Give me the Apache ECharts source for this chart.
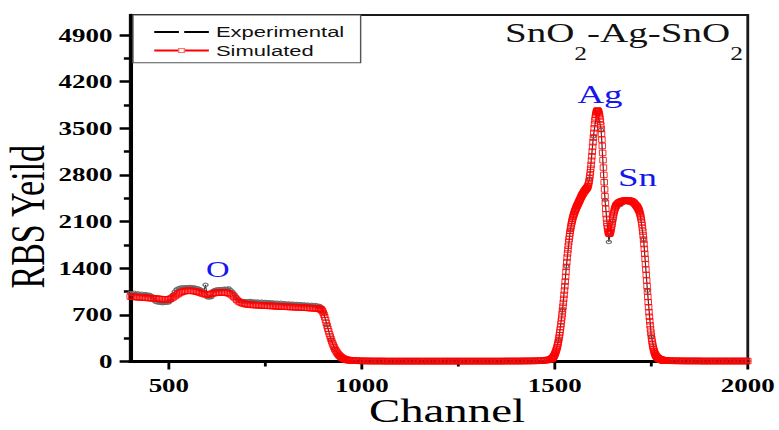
<!DOCTYPE html>
<html>
<head>
<meta charset="utf-8">
<script src="https://cdn.jsdelivr.net/npm/echarts@6.0.0/dist/echarts.min.js"></script>
<style>
  html, body { margin: 0; padding: 0; background: #fff; overflow: hidden; }
  /* the figure is laid out narrow and widened horizontally */
  #chart { width: 549px; height: 430px; transform: scaleX(1.418944); transform-origin: 0 0; }
</style>
</head>
<body>
<div id="chart"></div>
<script>
const SERIF = '"Liberation Serif", "Times New Roman", serif';
const SANS = '"Liberation Sans", Arial, sans-serif';

// Simulated RBS spectrum, stored in blocks of [first channel, channel step]
const simBlocks = [[400, 4], [890, 2], [970, 4], [1491, 1], [1662, 2], [1713, 1], [1792, 4]];
const simLow = [
  975, 973, 971, 969, 967, 965, 964, 963, 961, 959,
  958, 955, 953, 951, 950, 948, 946, 943, 941, 938,
  936, 934, 932, 931, 932, 935, 942, 953, 966, 982,
  1000, 1014, 1028, 1039, 1048, 1055, 1059, 1061, 1062, 1062,
  1060, 1057, 1054, 1049, 1042, 1035, 1027, 1019, 1012, 1007,
  1005, 1007, 1012, 1019, 1025, 1030, 1033, 1035, 1035, 1035,
  1035, 1034, 1032, 1028, 1021, 1010, 993, 972, 950, 927,
  905, 891, 880, 872, 865, 860, 857, 854, 851, 849,
  848, 847, 846, 844, 843, 842, 840, 839, 837, 836,
  835, 834, 833, 831, 830, 828, 827, 826, 824, 823,
  822, 821, 820, 819, 818, 817, 816, 815, 814, 813,
  812, 810, 809, 807, 806, 805, 803, 801, 800, 799,
  797, 795, 793
];
const simEdge = [
  790, 788, 782, 772, 755, 730, 700, 665, 622, 578,
  535, 492, 452, 412, 375, 340, 305, 272, 242, 215,
  190, 168, 148, 130, 114, 100, 88, 76, 66, 57,
  50, 44, 38, 33, 29, 26, 24, 22, 20, 19
];
const simGap = [
  18, 16, 14, 13, 12, 11, 10, 9, 9, 8,
  8, 8, 8, 7, 7, 7, 7, 7, 7, 7,
  7, 7, 6, 6, 6, 6, 6, 6, 6, 6,
  6, 6, 6, 6, 6, 6, 6, 6, 6, 6,
  6, 6, 6, 6, 6, 6, 6, 6, 6, 6,
  6, 6, 6, 6, 6, 6, 6, 6, 6, 6,
  6, 6, 6, 6, 6, 6, 6, 6, 6, 6,
  6, 6, 6, 6, 6, 6, 6, 6, 6, 6,
  6, 6, 6, 6, 6, 6, 6, 6, 6, 6,
  6, 6, 6, 6, 6, 6, 6, 6, 6, 6,
  7, 7, 7, 7, 7, 7, 7, 7, 7, 7,
  7, 7, 8, 8, 8, 8, 8, 9, 9, 9,
  10, 10, 11, 12, 13, 15, 17, 20, 24, 29,
  35
];
const simAgPeak = [
  37, 40, 45, 50, 57, 65, 75, 85, 97, 110,
  124, 140, 157, 175, 194, 215, 239, 265, 294, 325,
  359, 395, 434, 475, 519, 565, 612, 660, 712, 765,
  822, 880, 940, 1000, 1065, 1130, 1200, 1270, 1345, 1420,
  1492, 1560, 1622, 1680, 1737, 1790, 1837, 1880, 1921, 1960,
  1996, 2030, 2061, 2090, 2116, 2140, 2163, 2185, 2203, 2220,
  2238, 2255, 2270, 2285, 2300, 2315, 2328, 2340, 2353, 2365,
  2378, 2390, 2403, 2415, 2428, 2440, 2453, 2465, 2478, 2490,
  2500, 2510, 2520, 2530, 2540, 2550, 2558, 2565, 2573, 2580,
  2588, 2595, 2603, 2610, 2620, 2635, 2655, 2680, 2712, 2750,
  2793, 2840, 2893, 2950, 3013, 3080, 3150, 3220, 3290, 3360,
  3430, 3500, 3563, 3620, 3665, 3700, 3726, 3745, 3758, 3765,
  3764, 3760, 3749, 3735, 3710, 3680, 3643, 3600, 3548, 3490,
  3414, 3330, 3235, 3130, 3022, 2910, 2800, 2690, 2583, 2480,
  2382, 2290, 2210, 2140, 2080, 2030, 1991, 1960, 1940, 1925,
  1919, 1920, 1929, 1945, 1967, 1995, 2026, 2060, 2095, 2130,
  2166, 2200, 2231, 2260, 2281, 2300, 2316, 2330, 2341, 2350
];
const simSnTop = [
  2365, 2375, 2385, 2390, 2395, 2400, 2405, 2408, 2410, 2412,
  2414, 2415, 2416, 2416, 2415, 2414, 2412, 2410, 2405, 2400,
  2395, 2385, 2375, 2360, 2345, 2335
];
const simSnEdge = [
  2325, 2315, 2305, 2295, 2283, 2270, 2253, 2235, 2213, 2190,
  2162, 2130, 2092, 2050, 2002, 1950, 1892, 1830, 1762, 1690,
  1616, 1540, 1461, 1380, 1298, 1215, 1133, 1050, 969, 890,
  814, 740, 671, 605, 543, 485, 433, 385, 341, 300,
  266, 235, 206, 180, 159, 140, 124, 110, 98, 87,
  78, 70, 63, 57, 52, 47, 43, 40, 37, 34,
  31, 29, 27, 25, 23, 22, 21, 20, 19, 18,
  17, 16, 15, 15, 14, 14, 13, 13
];
const simTail = [
  12, 12, 11, 11, 10, 10, 10, 9, 9, 9,
  9, 8, 8, 8, 8, 8, 8, 8, 8, 8,
  8, 8, 7, 7, 7, 7, 7, 7, 7, 7,
  7, 7, 7, 7, 7, 7, 7, 7, 7, 7,
  7, 7, 7, 7, 7, 7, 7, 7, 7, 7,
  7, 7, 7
];

// Measured spectrum, blocks of [first channel, channel step]
const expBlocks = [[400, 5], [910, 10]];
const expLow = [
  1025, 1018, 1030, 1012, 1022, 1008, 1015, 1004, 1010, 998,
  1000, 985, 960, 900, 890, 885, 880, 878, 882, 885,
  890, 915, 1000, 1045, 1080, 1098, 1108, 1112, 1110, 1115,
  1112, 1118, 1110, 1112, 1102, 1098, 1085, 1070, 1040, 1150,
  965, 962, 968, 1060, 1072, 1080, 1085, 1082, 1088, 1090,
  1088, 1095, 1070, 1045, 1010, 960, 928, 910, 905, 902,
  905, 898, 908, 896, 900, 892, 899, 888, 897, 886,
  892, 880, 889, 878, 886, 874, 883, 872, 880, 869,
  872, 864, 870, 860, 866, 857, 862, 855, 860, 850,
  856, 848, 853, 843, 850, 840, 846, 838, 832, 812,
  740
];
const expHigh = [
  545, 330, 190, 98, 50, 27, 16, 12, 9, 8,
  9, 6, 8, 5, 7, 6, 9, 5, 6, 8,
  5, 7, 6, 8, 5, 6, 7, 5, 8, 6,
  6, 5, 8, 6, 7, 5, 6, 8, 5, 7,
  6, 8, 5, 7, 6, 5, 8, 6, 7, 7,
  8, 7, 9, 8, 11, 14, 13, 25, 32, 108,
  322, 772, 1428, 1968, 2228, 2372, 2482, 2588, 2745, 3380,
  3772, 3475, 2425, 1795, 2115, 2365, 2350, 2425, 2385, 2410,
  2335, 2245, 1835, 1065, 380, 108, 38, 19, 12, 10,
  9, 8, 9, 7, 8, 7, 8, 6, 7, 8,
  7, 6, 8, 7, 6, 7, 8, 6, 7, 6
];

const xTicks = [500, 1000, 1500, 2000];
const xMinorTicks = [750, 1250, 1750];
const yTicks = [0, 700, 1400, 2100, 2800, 3500, 4200, 4900];
const yMinorTicks = [350, 1050, 1750, 2450, 3150, 3850, 4550];

function toPairs(blocks, lists) {
  const out = [];
  blocks.forEach(([start, step], i) => {
    lists[i].forEach((v, k) => out.push([start + k * step, v]));
  });
  return out;
}

const simData = toPairs(simBlocks, [simLow, simEdge, simGap, simAgPeak, simSnTop, simSnEdge, simTail]);
const expData = toPairs(expBlocks, [expLow, expHigh]);

const peakLabels = [
  { text: 'Ag', x: 422.8, y: 94, size: 26 },
  { text: 'Sn', x: 449.3, y: 177.4, size: 26 },
  { text: 'O', x: 153.4, y: 268.8, size: 23 }
];

const tickLabel = {
  color: '#000', fontFamily: SERIF, fontWeight: 'bold', fontSize: 19,
  formatter: (v) => String(v)
};

const chart = echarts.init(document.getElementById('chart'), null, { renderer: 'svg' });

const textEl = (t, x, y, size, color, rotation, lineHeight) => ({
  type: 'text', x, y, rotation: rotation || 0, z: 20,
  style: {
    text: t, fill: color, fontFamily: SERIF, fontSize: size,
    lineHeight: lineHeight || size,
    align: 'center', verticalAlign: 'middle',
    textAlign: 'center', textVerticalAlign: 'middle'
  }
});

chart.setOption({
  animation: false,
  backgroundColor: '#fff',
  grid: {
    left: 91.8, right: 21.6, top: 15, bottom: 68.5,
    show: true, borderColor: '#1a1a1a', borderWidth: 2
  },
  title: {
    text: '{m|SnO}{s|2}{m|-Ag-SnO}{s|2}',
    right: 25.4, top: 19.1, padding: 0,
    textStyle: {
      fontWeight: 'normal',
      rich: {
        m: { fontFamily: SERIF, fontSize: 27.5, fontWeight: 'normal', lineHeight: 27, color: '#111', verticalAlign: 'top' },
        s: { fontFamily: SERIF, fontSize: 18, fontWeight: 'normal', lineHeight: 18, color: '#111', verticalAlign: 'top', padding: [25.3, 0, 0, 0] }
      }
    }
  },
  legend: {
    orient: 'vertical', left: 93.7, top: 15,
    padding: [9, 11.5, 4.2, 14], itemGap: 2.5, itemWidth: 38.5, itemHeight: 5,
    borderColor: '#555', borderWidth: 1, backgroundColor: '#fff',
    textStyle: { fontFamily: SANS, fontSize: 15.5, color: '#111' },
    data: [
      { name: 'Experimental', itemStyle: { color: '#fff', borderColor: '#fff', borderWidth: 0 }, lineStyle: { color: '#000', width: 2, opacity: 1 } },
      { name: 'Simulated', itemStyle: { color: '#fff', borderColor: '#ff7070', borderWidth: 1 }, lineStyle: { color: '#ff0000', width: 2, opacity: 1 } }
    ]
  },
  xAxis: [
    {
      type: 'value', min: 400, max: 2000, position: 'bottom',
      axisLine: { show: true, onZero: false, lineStyle: { color: '#000', width: 3 } },
      axisTick: { show: true, inside: false, length: 8, customValues: xTicks, lineStyle: { color: '#000', width: 2 } },
      axisLabel: Object.assign({ customValues: xTicks, margin: 14 }, tickLabel),
      splitLine: { show: false }
    },
    {
      type: 'value', min: 400, max: 2000, position: 'bottom',
      axisLine: { show: false },
      axisTick: { show: true, inside: false, length: 5, customValues: xMinorTicks, lineStyle: { color: '#000', width: 2 } },
      axisLabel: { show: false },
      splitLine: { show: false }
    }
  ],
  yAxis: [
    {
      type: 'value', min: 0, max: 5200, position: 'left',
      axisLine: { show: true, onZero: false, lineStyle: { color: '#000', width: 2.5 } },
      axisTick: { show: true, inside: false, length: 7.5, customValues: yTicks, lineStyle: { color: '#000', width: 2.5 } },
      axisLabel: Object.assign({ customValues: yTicks, margin: 12.5 }, tickLabel),
      splitLine: { show: false }
    },
    {
      type: 'value', min: 0, max: 5200, position: 'left',
      axisLine: { show: false },
      axisTick: { show: true, inside: false, length: 4.5, customValues: yMinorTicks, lineStyle: { color: '#000', width: 2.5 } },
      axisLabel: { show: false },
      splitLine: { show: false }
    }
  ],
  series: [
    {
      name: 'Experimental', type: 'line', data: expData, z: 2,
      symbol: 'circle', symbolSize: 3.5, showSymbol: true,
      itemStyle: { color: 'rgba(0,0,0,0)', borderColor: '#6a6a6a', borderWidth: 1 },
      lineStyle: { color: '#333', width: 0.8 },
      emphasis: { disabled: true }
    },
    {
      name: 'Simulated', type: 'line', data: simData, z: 3,
      symbol: 'rect', symbolSize: [4.6, 5.5], showSymbol: true,
      itemStyle: { color: 'rgba(255,0,0,0)', borderColor: '#ff0000', borderWidth: 0.7 },
      lineStyle: { color: '#ff0000', width: 0.8, opacity: 0.3 },
      emphasis: { disabled: true }
    }
  ],
  graphic: [
    textEl('RBS Yeild', 19.7, 216.7, 34, '#000', Math.PI / 2),
    textEl('Channel', 315, 411.5, 33, '#000', 0, 26),
    ...peakLabels.map(p => textEl(p.text, p.x, p.y, p.size, '#1515ee'))
  ]
});
</script>
</body>
</html>
